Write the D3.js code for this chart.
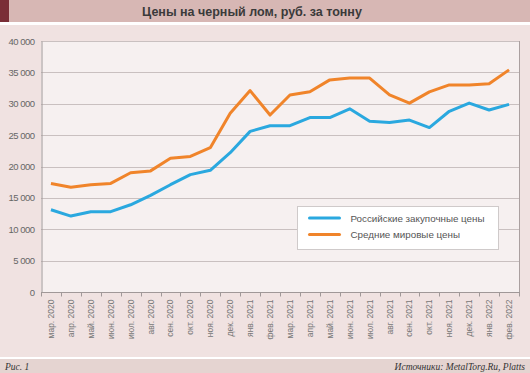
<!DOCTYPE html>
<html>
<head>
<meta charset="utf-8">
<script src="https://cdn.jsdelivr.net/npm/d3@7"></script>
<style>
  body { margin: 0; background: #f0e2e1; }
  svg { display: block; }
</style>
</head>
<body>
<svg id="chart" width="530" height="373"></svg>
<script>
// data
var months = ["мар. 2020", "апр. 2020", "май. 2020", "июн. 2020", "июл. 2020", "авг. 2020",
  "сен. 2020", "окт. 2020", "ноя. 2020", "дек. 2020", "янв. 2021", "фев. 2021",
  "мар. 2021", "апр. 2021", "май. 2021", "июн. 2021", "июл. 2021", "авг. 2021",
  "сен. 2021", "окт. 2021", "ноя. 2021", "дек. 2021", "янв. 2022", "фев. 2022"];
var russianPrices = [13100, 12100, 12800, 12800, 13900, 15400, 17100, 18700, 19400, 22200, 25600, 26500,
  26500, 27800, 27800, 29200, 27200, 27000, 27400, 26200, 28800, 30100, 29000, 29900];
var worldPrices = [17300, 16700, 17100, 17300, 19000, 19300, 21300, 21600, 23000, 28500, 32100, 28200,
  31400, 31900, 33800, 34100, 34100, 31400, 30100, 31900, 33000, 33000, 33200, 35400];
var yTicks = [0, 5000, 10000, 15000, 20000, 25000, 30000, 35000, 40000];
var seriesNames = ["Российские закупочные цены", "Средние мировые цены"];
var seriesColors = ["#2aa8df", "#f0842a"];

var svg = d3.select("#chart");
var W = 530, H = 373;
var plot = {left: 41, right: 519, top: 41, bottom: 292};

// title bar
svg.append("rect").attr("x", 0).attr("y", 0).attr("width", W).attr("height", 22).attr("fill", "#d7b7b4");
svg.append("rect").attr("x", 0).attr("y", 0).attr("width", 9).attr("height", 22).attr("fill", "#7a2e37");
svg.append("rect").attr("x", 0).attr("y", 22).attr("width", W).attr("height", 3).attr("fill", "#ffffff");
svg.append("text")
  .attr("x", 252).attr("y", 15.5)
  .attr("text-anchor", "middle")
  .attr("font-family", "Liberation Sans, Arial, sans-serif")
  .attr("font-size", 12.5).attr("font-weight", "bold")
  .attr("fill", "#3a3a3a")
  .text("Цены на черный лом, руб. за тонну");

// footer
svg.append("rect").attr("x", 0).attr("y", 357).attr("width", W).attr("height", 2).attr("fill", "#ffffff");
svg.append("rect").attr("x", 0).attr("y", 359).attr("width", W).attr("height", 14).attr("fill", "#e5d4d1");
svg.append("text")
  .attr("x", 5).attr("y", 369.5)
  .attr("font-family", "Liberation Serif, serif").attr("font-style", "italic")
  .attr("font-size", 9.5).attr("fill", "#333")
  .text("Рис. 1");
svg.append("text")
  .attr("x", 525).attr("y", 369.5)
  .attr("text-anchor", "end")
  .attr("font-family", "Liberation Serif, serif").attr("font-style", "italic")
  .attr("font-size", 9.5).attr("fill", "#333")
  .text("Источники: MetalTorg.Ru, Platts");

// scales
var x = d3.scaleBand().domain(months).range([plot.left, plot.right]);
var y = d3.scaleLinear().domain([0, 40000]).range([plot.bottom, plot.top]);

// plot background
svg.append("rect")
  .attr("x", plot.left).attr("y", plot.top)
  .attr("width", plot.right - plot.left).attr("height", plot.bottom - plot.top)
  .attr("fill", "#f6f0f0");

// grid
svg.append("g").selectAll("line")
  .data(yTicks.filter(function(d){ return d > 0; }))
  .enter().append("line")
  .attr("x1", plot.left).attr("x2", plot.right)
  .attr("y1", function(d){ return Math.round(y(d)) + 0.5; })
  .attr("y2", function(d){ return Math.round(y(d)) + 0.5; })
  .attr("stroke", "#c9c0c0").attr("stroke-width", 1.2);

// right border
svg.append("line")
  .attr("x1", plot.right + 0.5).attr("x2", plot.right + 0.5)
  .attr("y1", plot.top).attr("y2", plot.bottom)
  .attr("stroke", "#aaa0a0");

// y axis
var yAxis = d3.axisLeft(y).tickValues(yTicks).tickSize(0).tickPadding(7)
  .tickFormat(function(d){ return d3.format(",")(d).replace(",", " "); });
var gy = svg.append("g").attr("transform", "translate(" + (plot.left + 0.5) + ",0)").call(yAxis);
gy.select(".domain").attr("stroke", "#a09898");
gy.selectAll("text")
  .attr("font-family", "Liberation Sans, Arial, sans-serif")
  .attr("font-size", 9.5).attr("fill", "#666").attr("letter-spacing", -0.5);

// x axis: ticks on band boundaries
var gx = svg.append("g").attr("transform", "translate(0," + (plot.bottom + 0.5) + ")");
gx.append("line").attr("x1", plot.left).attr("x2", plot.right + 1)
  .attr("stroke", "#a09898");
gx.selectAll("line.tick")
  .data(months.concat(["end"]))
  .enter().append("line")
  .attr("class", "tick")
  .attr("x1", function(d, i){ return Math.round(plot.left + i * x.step()) + 0.5; })
  .attr("x2", function(d, i){ return Math.round(plot.left + i * x.step()) + 0.5; })
  .attr("y1", 0).attr("y2", 4)
  .attr("stroke", "#a09898");
gx.selectAll("text")
  .data(months)
  .enter().append("text")
  .attr("transform", function(d){
    return "translate(" + (x(d) + x.bandwidth() / 2 + 3) + ",7) rotate(-90)";
  })
  .attr("text-anchor", "end")
  .attr("font-family", "Liberation Sans, Arial, sans-serif")
  .attr("font-size", 8.5).attr("fill", "#777")
  .text(function(d){ return d; });

// lines
var line = d3.line()
  .x(function(d, i){ return x(months[i]) + x.bandwidth() / 2; })
  .y(function(d){ return y(d); });

[russianPrices, worldPrices].forEach(function(values, k){
  svg.append("path")
    .datum(values)
    .attr("d", line)
    .attr("fill", "none")
    .attr("stroke", seriesColors[k])
    .attr("stroke-width", 3)
    .attr("stroke-linejoin", "round");
});

// legend
var legend = svg.append("g").attr("transform", "translate(297.5,206.5)");
legend.append("rect")
  .attr("width", 201).attr("height", 43)
  .attr("fill", "#ffffff").attr("stroke", "#cfcaca");
seriesNames.forEach(function(name, i){
  var ly = 11.5 + i * 16.5;
  legend.append("line")
    .attr("x1", 12).attr("x2", 42).attr("y1", ly).attr("y2", ly)
    .attr("stroke", seriesColors[i]).attr("stroke-width", 3).attr("stroke-linecap", "round");
  legend.append("text")
    .attr("x", 53).attr("y", ly + 3.5)
    .attr("font-family", "Liberation Sans, Arial, sans-serif")
    .attr("font-size", 9.8).attr("fill", "#555")
    .text(name);
});
</script>
</body>
</html>
